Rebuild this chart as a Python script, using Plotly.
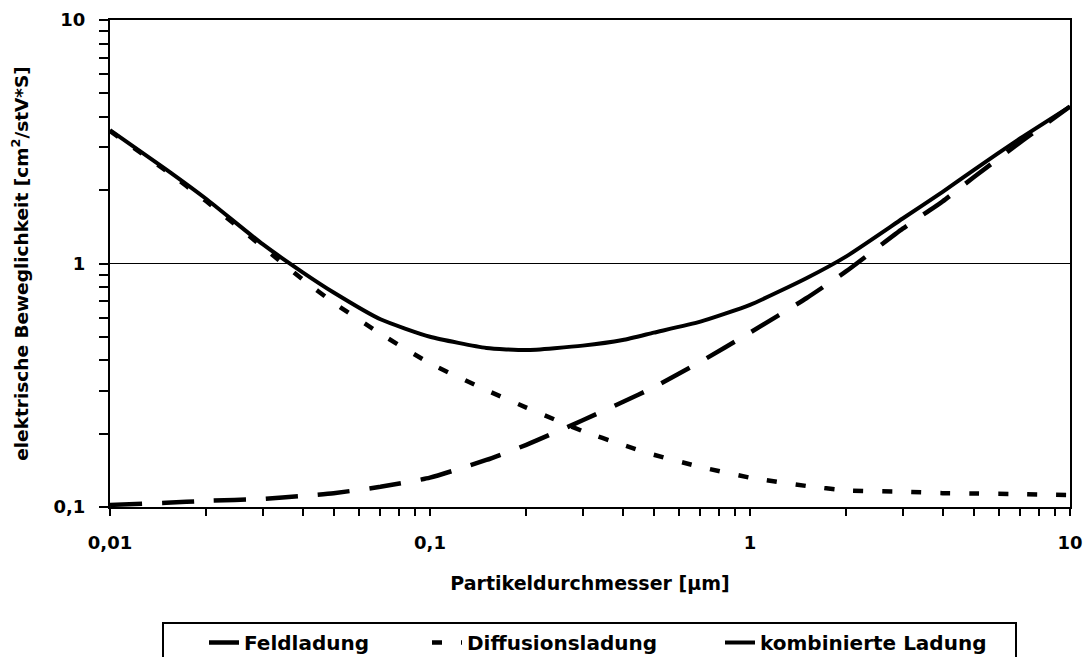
import plotly.graph_objects as go

# Particle diameter [µm]
diameter = [0.01, 0.015, 0.02, 0.03, 0.04, 0.05, 0.07, 0.1, 0.15, 0.2, 0.3,
            0.4, 0.5, 0.7, 1, 1.5, 2, 3, 4, 5, 7, 10]

# Electrical mobility [cm²/stV*s]
feldladung = [0.102, 0.104, 0.106, 0.108, 0.111, 0.114, 0.121, 0.132, 0.156,
              0.18, 0.227, 0.27, 0.31, 0.395, 0.52, 0.72, 0.93, 1.39, 1.8,
              2.26, 3.15, 4.41]
diffusionsladung = [3.5, 2.4, 1.8, 1.17, 0.86, 0.69, 0.515, 0.389, 0.302,
                    0.256, 0.205, 0.18, 0.164, 0.146, 0.132, 0.122, 0.117,
                    0.1156, 0.114, 0.1137, 0.113, 0.112]
kombiniert = [3.53, 2.43, 1.84, 1.2, 0.92, 0.76, 0.59, 0.5, 0.45, 0.441,
              0.46, 0.485, 0.52, 0.577, 0.676, 0.87, 1.07, 1.53, 1.97, 2.42,
              3.27, 4.41]

series_names = ["Feldladung", "Diffusionsladung", "kombinierte Ladung"]

x_tickvals = [0.01, 0.1, 1, 10]
x_ticktext = ["0,01", "0,1", "1", "10"]
y_tickvals = [0.1, 1, 10]
y_ticktext = ["0,1", "1", "10"]

x_minor = [m * 10 ** e for e in (-2, -1, 0) for m in range(2, 10)]
y_minor = [m * 10 ** e for e in (-1, 0) for m in range(2, 10)]

FONT = "DejaVu Sans"

fig = go.Figure()
fig.add_trace(go.Scatter(
    x=diameter, y=feldladung, mode="lines", name=series_names[0],
    line=dict(color="black", width=4.5, dash="32px,20px", shape="spline", smoothing=0.5),
    legendwidth=178,
))
fig.add_trace(go.Scatter(
    x=diameter, y=diffusionsladung, mode="lines", name=series_names[1],
    line=dict(color="black", width=4.5, dash="10px,19px", shape="spline", smoothing=0.5),
    legendwidth=248,
))
fig.add_trace(go.Scatter(
    x=diameter, y=kombiniert, mode="lines", name=series_names[2],
    line=dict(color="black", width=4, shape="spline", smoothing=0.5),
    legendwidth=240,
))

L, R, T, B = 110, 20, 20, 150
W, H = 1090, 657
pw, ph = W - L - R, H - T - B

def px_to_paper_x(px):
    return (px - L) / pw

def px_to_paper_y(py):
    return (H - B - py) / ph

fig.update_layout(
    width=W, height=H,
    margin=dict(l=L, r=R, t=T, b=B, autoexpand=False),
    paper_bgcolor="white", plot_bgcolor="white",
    font=dict(family=FONT, size=18, color="black", weight="bold"),
    showlegend=True,
    legend=dict(
        orientation="h", x=px_to_paper_x(204), xanchor="left",
        y=px_to_paper_y(623), yanchor="top",
        font=dict(family=FONT, size=20, color="black", weight="bold"),
        bgcolor="rgba(0,0,0,0)", borderwidth=0,
        traceorder="normal",
    ),
    xaxis=dict(
        type="log", range=[-2, 1],
        tickmode="array", tickvals=x_tickvals, ticktext=x_ticktext,
        ticks="outside", ticklen=7, tickwidth=2, tickcolor="black",
        ticklabelstandoff=11,
        minor=dict(tickmode="array", tickvals=x_minor, ticks="outside",
                   ticklen=7, tickwidth=2, tickcolor="black", showgrid=False),
        showgrid=False, showline=True, linecolor="black", linewidth=2,
        mirror=True,
        title=dict(text="Partikeldurchmesser [µm]", standoff=25,
                   font=dict(family=FONT, size=19, color="black", weight="bold")),
        tickfont=dict(family=FONT, size=18, color="black", weight="bold"),
    ),
    yaxis=dict(
        type="log", range=[-1, 1],
        tickmode="array", tickvals=y_tickvals, ticktext=y_ticktext,
        ticks="outside", ticklen=9, tickwidth=2, tickcolor="black",
        ticklabelstandoff=10,
        minor=dict(tickmode="array", tickvals=y_minor, ticks="outside",
                   ticklen=9, tickwidth=2, tickcolor="black", showgrid=False),
        showgrid=True, gridcolor="black", gridwidth=1,
        showline=True, linecolor="black", linewidth=2, mirror=True,
        title=dict(text="elektrische Beweglichkeit [cm<sup>2</sup>/stV*S]",
                   standoff=20,
                   font=dict(family=FONT, size=18.5, color="black", weight="bold")),
        tickfont=dict(family=FONT, size=18, color="black", weight="bold"),
    ),
    shapes=[dict(
        type="rect", xref="paper", yref="paper",
        x0=px_to_paper_x(163), x1=px_to_paper_x(1016),
        y0=px_to_paper_y(623), y1=px_to_paper_y(690),
        line=dict(color="black", width=2), fillcolor="rgba(0,0,0,0)",
        layer="above",
    )],
)

fig.write_html("out.html")
